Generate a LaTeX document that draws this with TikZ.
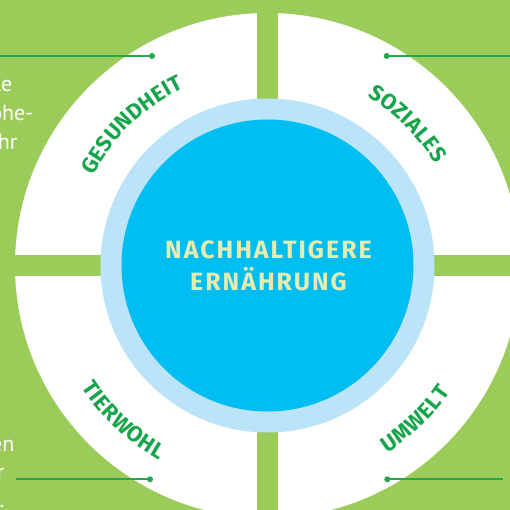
\documentclass[tikz,border=0pt]{standalone}
\usepackage{fontspec}
\setmainfont{Fira Sans}
\newfontfamily\sidefont{PT Sans}
\usetikzlibrary{decorations.text}
\definecolor{bggreen}{HTML}{9BCB59}
\definecolor{ringblue}{HTML}{BBE4F8}
\definecolor{corecyan}{HTML}{00BDF2}
\definecolor{titletext}{HTML}{E4ECB2}
\definecolor{lblgreen}{HTML}{17A54B}
\definecolor{linegreen}{HTML}{25A84C}
\newcommand\mylblfont{\fontsize{22}{22}\selectfont\bfseries\color{lblgreen}}
\begin{document}
\begin{tikzpicture}[x=1pt,y=1pt,
  dotnode/.style={circle,fill=linegreen,inner sep=0pt,minimum size=6pt},
  leader/.style={draw=linegreen,line width=1.6pt},
  sidetext/.style={text=white,font=\sidefont\fontsize{22}{22}\selectfont,inner sep=0pt,anchor=base east},
  arclabel/.style={decorate,decoration={text along path,text align=fit to path,text={|\mylblfont|#1}}}
]
\useasboundingbox (0,0) rectangle (510,510);
\fill[bggreen] (0,0) rectangle (510,510);
\coordinate (C) at (267.5,244.5);
% white disc and cross bands
\fill[white] (C) circle[radius=252.5];
\fill[bggreen] (257,0) rectangle (278,510);
\fill[bggreen] (0,234) rectangle (510,255);
% rings
\fill[ringblue] (C) circle[radius=167];
\fill[corecyan] (C) circle[radius=146];
% title
\node[align=center,text=titletext,font=\fontsize{25}{31.7}\selectfont\bfseries\addfontfeatures{LetterSpace=8},inner sep=0pt] (title) at (268.5,244.5) {NACHHALTIGERE\\ERNÄHRUNG};
% curved labels
\path[arclabel=GESUNDHEIT] ([shift={(152.7:196)}]C) arc[start angle=152.7,end angle=115.3,radius=196];
\path[arclabel=SOZIALES] ([shift={(59.3:196)}]C) arc[start angle=59.3,end angle=31.2,radius=196];
\path[arclabel=TIERWOHL] ([shift={(213.3:222.5)}]C) arc[start angle=213.3,end angle=240.8,radius=222.5];
\path[arclabel=UMWELT] ([shift={(302.5:222.5)}]C) arc[start angle=302.5,end angle=325.3,radius=222.5];
% leader lines
\node[dotnode] (dTL) at (152,454) {};
\coordinate (eTL) at (0,454);
\draw[leader] (eTL) -- (dTL.center);
\node[dotnode] (dTR) at (386.7,454) {};
\coordinate (eTR) at (510,454);
\draw[leader] (dTR.center) -- (eTR);
\node[dotnode] (dBL) at (150,30.7) {};
\coordinate (eBL) at (16,30.7);
\draw[leader] (eBL) -- (dBL.center);
\node[dotnode] (dBR) at (387.3,30.7) {};
\coordinate (eBR) at (502.7,30.7);
\draw[leader] (dBR.center) -- (eBR);
% cut-off side texts
\node[sidetext] (t1) at (12.5,418.3) {le};
\node[sidetext] (t2) at (33.5,389) {öhe-};
\node[sidetext] (t3) at (17.5,360) {hr};
\node[sidetext] (t4) at (14.5,58.3) {en};
\node[sidetext] (t5) at (4.5,30) {r};
\node[sidetext] (t6) at (4.5,2) {.};
\end{tikzpicture}
\end{document}
